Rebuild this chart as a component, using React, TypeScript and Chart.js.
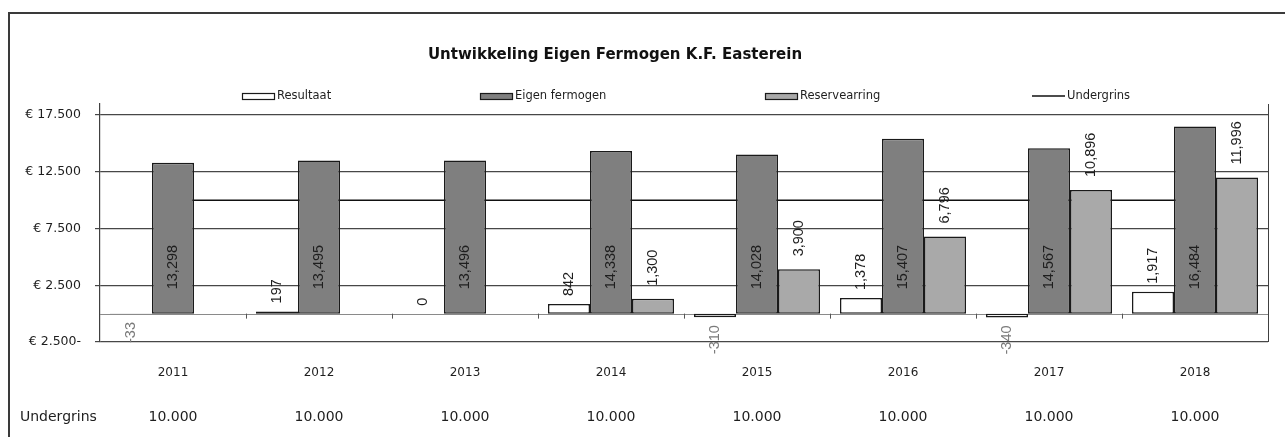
import React, { useEffect, useRef } from "react";
import { Chart, registerables } from "chart.js";

Chart.register(...registerables);

const chartTitle = "Untwikkeling Eigen Fermogen K.F. Easterein";
const years = ["2011", "2012", "2013", "2014", "2015", "2016", "2017", "2018"];
const resultaat = [-33, 197, 0, 842, -310, 1378, -340, 1917];
const eigenFermogen = [13298, 13495, 13496, 14338, 14028, 15407, 14567, 16484];
const reservearring: (number | null)[] = [null, null, null, 1300, 3900, 6796, 10896, 11996];
const undergrins = [10000, 10000, 10000, 10000, 10000, 10000, 10000, 10000];
const seriesNames = ["Resultaat", "Eigen fermogen", "Reservearring", "Undergrins"];
const yTickValues = [-2500, 2500, 7500, 12500, 17500];
const tableRowLabel = "Undergrins";

const W = 1285;
const H = 437;
const FONT = "'DejaVu Sans', sans-serif";
const LABEL_FONT = "'Liberation Sans', Arial, sans-serif";

const groupDigits = (n: number, sep: string) =>
  Math.abs(Math.round(n)).toString().replace(/\B(?=(\d{3})+(?!\d))/g, sep);
const fmtComma = (v: number) => (v < 0 ? "-" : "") + groupDigits(v, ",");
const fmtEuro = (v: number) => "€ " + groupDigits(v, ".") + (v < 0 ? "-" : "");
const fmtDot = (v: number) => groupDigits(v, ".");

const colors = {
  resultaat: "#ffffff",
  eigen: "#7f7f7f",
  reserve: "#a9a9a9",
  border: "#1a1a1a",
  grid: "#474747",
  text: "#1e1e1e",
};

const legendXs = [242, 480, 765, 1032];

const decorPlugin = {
  id: "decor",
  beforeDraw(chart: any) {
    const { ctx } = chart;
    ctx.save();
    ctx.fillStyle = "#ffffff";
    ctx.fillRect(0, 0, W, H);
    ctx.strokeStyle = "#3a3a3a";
    ctx.lineWidth = 2;
    ctx.beginPath();
    ctx.moveTo(9, H);
    ctx.lineTo(9, 13);
    ctx.lineTo(W, 13);
    ctx.stroke();
    ctx.restore();
  },
  beforeDatasetsDraw(chart: any) {
    const { ctx, chartArea, scales } = chart;
    const y0 = scales.y.getPixelForValue(0);
    ctx.save();
    ctx.strokeStyle = "#8a8a8a";
    ctx.lineWidth = 1;
    ctx.beginPath();
    ctx.moveTo(chartArea.left, Math.round(y0) + 0.5);
    ctx.lineTo(chartArea.right, Math.round(y0) + 0.5);
    ctx.stroke();
    const n = years.length;
    const cw = (chartArea.right - chartArea.left) / n;
    ctx.strokeStyle = "#555";
    for (let i = 1; i < n; i++) {
      const x = Math.round(chartArea.left + i * cw) + 0.5;
      ctx.beginPath();
      ctx.moveTo(x, y0);
      ctx.lineTo(x, y0 + 5);
      ctx.stroke();
    }
    ctx.strokeStyle = "#404040";
    ctx.beginPath();
    ctx.moveTo(Math.round(chartArea.right) + 0.5, chartArea.top);
    ctx.lineTo(Math.round(chartArea.right) + 0.5, chartArea.bottom);
    ctx.stroke();
    ctx.restore();
  },
  afterDatasetsDraw(chart: any) {
    const { ctx, scales } = chart;
    ctx.save();
    ctx.font = `14.5px ${LABEL_FONT}`;
    ctx.textBaseline = "middle";
    const drawRot = (x: number, y: number, text: string, align: CanvasTextAlign, color: string) => {
      ctx.save();
      ctx.translate(x, y);
      ctx.rotate(-Math.PI / 2);
      ctx.textAlign = align;
      ctx.fillStyle = color;
      ctx.fillText(text, 0, 0);
      ctx.restore();
    };
    const m0 = chart.getDatasetMeta(0);
    resultaat.forEach((v, i) => {
      const el = m0.data[i];
      if (!el) return;
      if (v >= 0) drawRot(el.x, Math.min(el.y, el.base) - 8, fmtComma(v), "left", colors.text);
      else drawRot(el.x, Math.max(el.y, el.base) + 8, fmtComma(v), "right", "#7a7a7a");
    });
    const m1 = chart.getDatasetMeta(1);
    const yMid = scales.y.getPixelForValue(4100);
    eigenFermogen.forEach((v, i) => {
      const el = m1.data[i];
      if (!el) return;
      drawRot(el.x, yMid, fmtComma(v), "center", colors.text);
    });
    const m2 = chart.getDatasetMeta(2);
    reservearring.forEach((v, i) => {
      const el = m2.data[i];
      if (!el || v === null) return;
      drawRot(el.x, Math.min(el.y, el.base) - 13, fmtComma(v), "left", colors.text);
    });
    ctx.restore();
  },
  afterDraw(chart: any) {
    const { ctx, chartArea } = chart;
    ctx.save();
    ctx.fillStyle = "#111";
    ctx.font = `bold 15px ${FONT}`;
    ctx.textAlign = "center";
    ctx.textBaseline = "middle";
    ctx.fillText(chartTitle, 615, 55);
    const ly = 96;
    ctx.font = `11.5px ${FONT}`;
    ctx.textAlign = "left";
    const fills = [colors.resultaat, colors.eigen, colors.reserve];
    seriesNames.forEach((name, i) => {
      const x = legendXs[i];
      if (i < 3) {
        ctx.fillStyle = fills[i];
        ctx.fillRect(x, ly - 3, 33, 7);
        ctx.strokeStyle = colors.border;
        ctx.lineWidth = 1.2;
        ctx.strokeRect(x + 0.5, ly - 3 + 0.5, 32, 6);
      } else {
        ctx.strokeStyle = "#111";
        ctx.lineWidth = 1.5;
        ctx.beginPath();
        ctx.moveTo(x, ly);
        ctx.lineTo(x + 33, ly);
        ctx.stroke();
      }
      ctx.fillStyle = colors.text;
      ctx.fillText(name, x + 35, ly);
    });
    const n = years.length;
    const cw = (chartArea.right - chartArea.left) / n;
    ctx.font = `14px ${FONT}`;
    ctx.fillStyle = colors.text;
    ctx.textAlign = "left";
    ctx.fillText(tableRowLabel, 20, 417);
    ctx.textAlign = "center";
    undergrins.forEach((v, i) => {
      ctx.fillText(fmtDot(v), chartArea.left + (i + 0.5) * cw, 417);
    });
    ctx.restore();
  },
};

export default function App() {
  const canvasRef = useRef<HTMLCanvasElement | null>(null);

  useEffect(() => {
    const canvas = canvasRef.current;
    if (!canvas) return;
    const barCommon = {
      borderColor: colors.border,
      borderWidth: 1.5,
      borderSkipped: false,
      order: 0,
    };
    const chart = new Chart(canvas, {
      type: "bar",
      data: {
        labels: years,
        datasets: [
          { type: "bar", label: seriesNames[0], data: resultaat, backgroundColor: colors.resultaat, ...barCommon },
          { type: "bar", label: seriesNames[1], data: eigenFermogen, backgroundColor: colors.eigen, ...barCommon },
          { type: "bar", label: seriesNames[2], data: reservearring, backgroundColor: colors.reserve, ...barCommon },
          {
            type: "line",
            label: seriesNames[3],
            data: undergrins,
            borderColor: "#111",
            borderWidth: 1.5,
            pointRadius: 0,
            fill: false,
            order: 1,
          } as any,
        ] as any,
      },
      options: {
        responsive: false,
        animation: false,
        devicePixelRatio: 1,
        datasets: {
          bar: { categoryPercentage: 0.863, barPercentage: 1 },
        },
        layout: { padding: { left: 0, right: W - 1268, top: 104, bottom: 0 } },
        plugins: {
          legend: { display: false },
          title: { display: false },
          tooltip: { enabled: false },
        },
        scales: {
          x: {
            grid: { display: false, drawTicks: false },
            border: { display: false },
            ticks: {
              padding: 24,
              color: colors.text,
              font: { family: FONT, size: 12 },
              maxRotation: 0,
            },
            afterFit: (s: any) => {
              s.height = H - 342;
            },
          },
          y: {
            min: -2500,
            max: 18470,
            afterBuildTicks: (s: any) => {
              s.ticks = yTickValues.map((v) => ({ value: v }));
            },
            afterFit: (s: any) => {
              s.width = 100;
            },
            grid: {
              color: colors.grid,
              lineWidth: 1.2,
              tickLength: 5,
              drawTicks: true,
            },
            border: { display: true, color: "#404040", width: 1.2 },
            ticks: {
              padding: 14,
              color: colors.text,
              font: { family: FONT, size: 12.5 },
              callback: (v: any) => fmtEuro(Number(v)),
            },
          },
        },
      } as any,
      plugins: [decorPlugin],
    });
    return () => chart.destroy();
  }, []);

  return (
    <div style={{ position: "fixed", left: 0, top: 0, width: W, height: H }}>
      <canvas ref={canvasRef} width={W} height={H} style={{ display: "block" }} />
    </div>
  );
}
